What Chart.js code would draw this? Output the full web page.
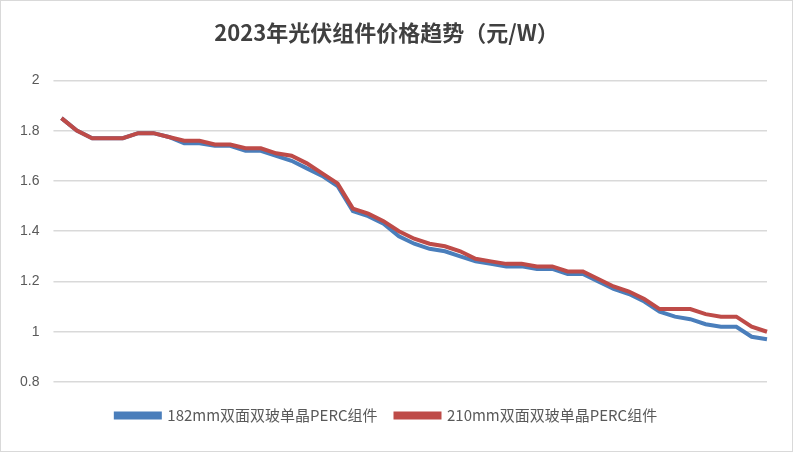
<!DOCTYPE html>
<html><head><meta charset="utf-8">
<script src="https://cdn.jsdelivr.net/npm/chart.js@4"></script>
<style>body{margin:0;background:#fff}#w{width:791px;height:450px;border:1px solid #d9d9d9}</style>
</head><body><div id="w"><canvas id="c"></canvas></div>
<script>
const seriesA = [1.85,1.80,1.77,1.77,1.77,1.79,1.79,1.775,1.75,1.75,1.74,1.74,1.72,1.72,1.70,1.68,1.65,1.62,1.58,1.48,1.46,1.43,1.38,1.35,1.33,1.32,1.30,1.28,1.27,1.26,1.26,1.25,1.25,1.23,1.23,1.20,1.17,1.15,1.12,1.08,1.06,1.05,1.03,1.02,1.02,0.98,0.97];
const seriesB = [1.85,1.80,1.77,1.77,1.77,1.79,1.79,1.775,1.76,1.76,1.745,1.745,1.73,1.73,1.71,1.70,1.67,1.63,1.59,1.49,1.47,1.44,1.40,1.37,1.35,1.34,1.32,1.29,1.28,1.27,1.27,1.26,1.26,1.24,1.24,1.21,1.18,1.16,1.13,1.09,1.09,1.09,1.07,1.06,1.06,1.02,1.00];
const categories = seriesA.map(()=> '');
const yTicks = [0.8,1,1.2,1.4,1.6,1.8,2];
new Chart(document.getElementById('c'),{type:'line',
data:{labels:categories,datasets:[
{label:'182mm双面双玻单晶PERC组件',data:seriesA,borderColor:'#4a7ebb',backgroundColor:'#4a7ebb',borderWidth:4,pointRadius:0,tension:0,order:2},
{label:'210mm双面双玻单晶PERC组件',data:seriesB,borderColor:'#be4b48',backgroundColor:'#be4b48',borderWidth:4,pointRadius:0,tension:0,order:1}]},
options:{responsive:true,maintainAspectRatio:false,animation:false,
layout:{padding:{left:5,right:25,top:8,bottom:18}},
plugins:{title:{display:true,text:'2023年光伏组件价格趋势（元/W）',font:{size:22,weight:'bold',family:'"Noto Sans CJK SC"'},color:'#404040',padding:{top:10,bottom:35}},
legend:{position:'bottom',labels:{sort:(a,b)=>a.datasetIndex-b.datasetIndex,boxWidth:44,boxHeight:4,font:{size:15,family:'"Noto Sans CJK SC"'},color:'#595959',padding:18}}},
scales:{x:{offset:false,grid:{display:false},border:{display:false},ticks:{display:false},afterFit:s=>{s.paddingLeft=0;s.paddingRight=0}},
y:{min:0.8,max:2,afterBuildTicks:a=>{a.ticks=yTicks.map(v=>({value:v}))},grid:{color:'#d9d9d9',lineWidth:1.5},border:{display:false},ticks:{color:'#595959',font:{size:14},padding:14,callback:v=>String(v)}}}}});
</script></body></html>
